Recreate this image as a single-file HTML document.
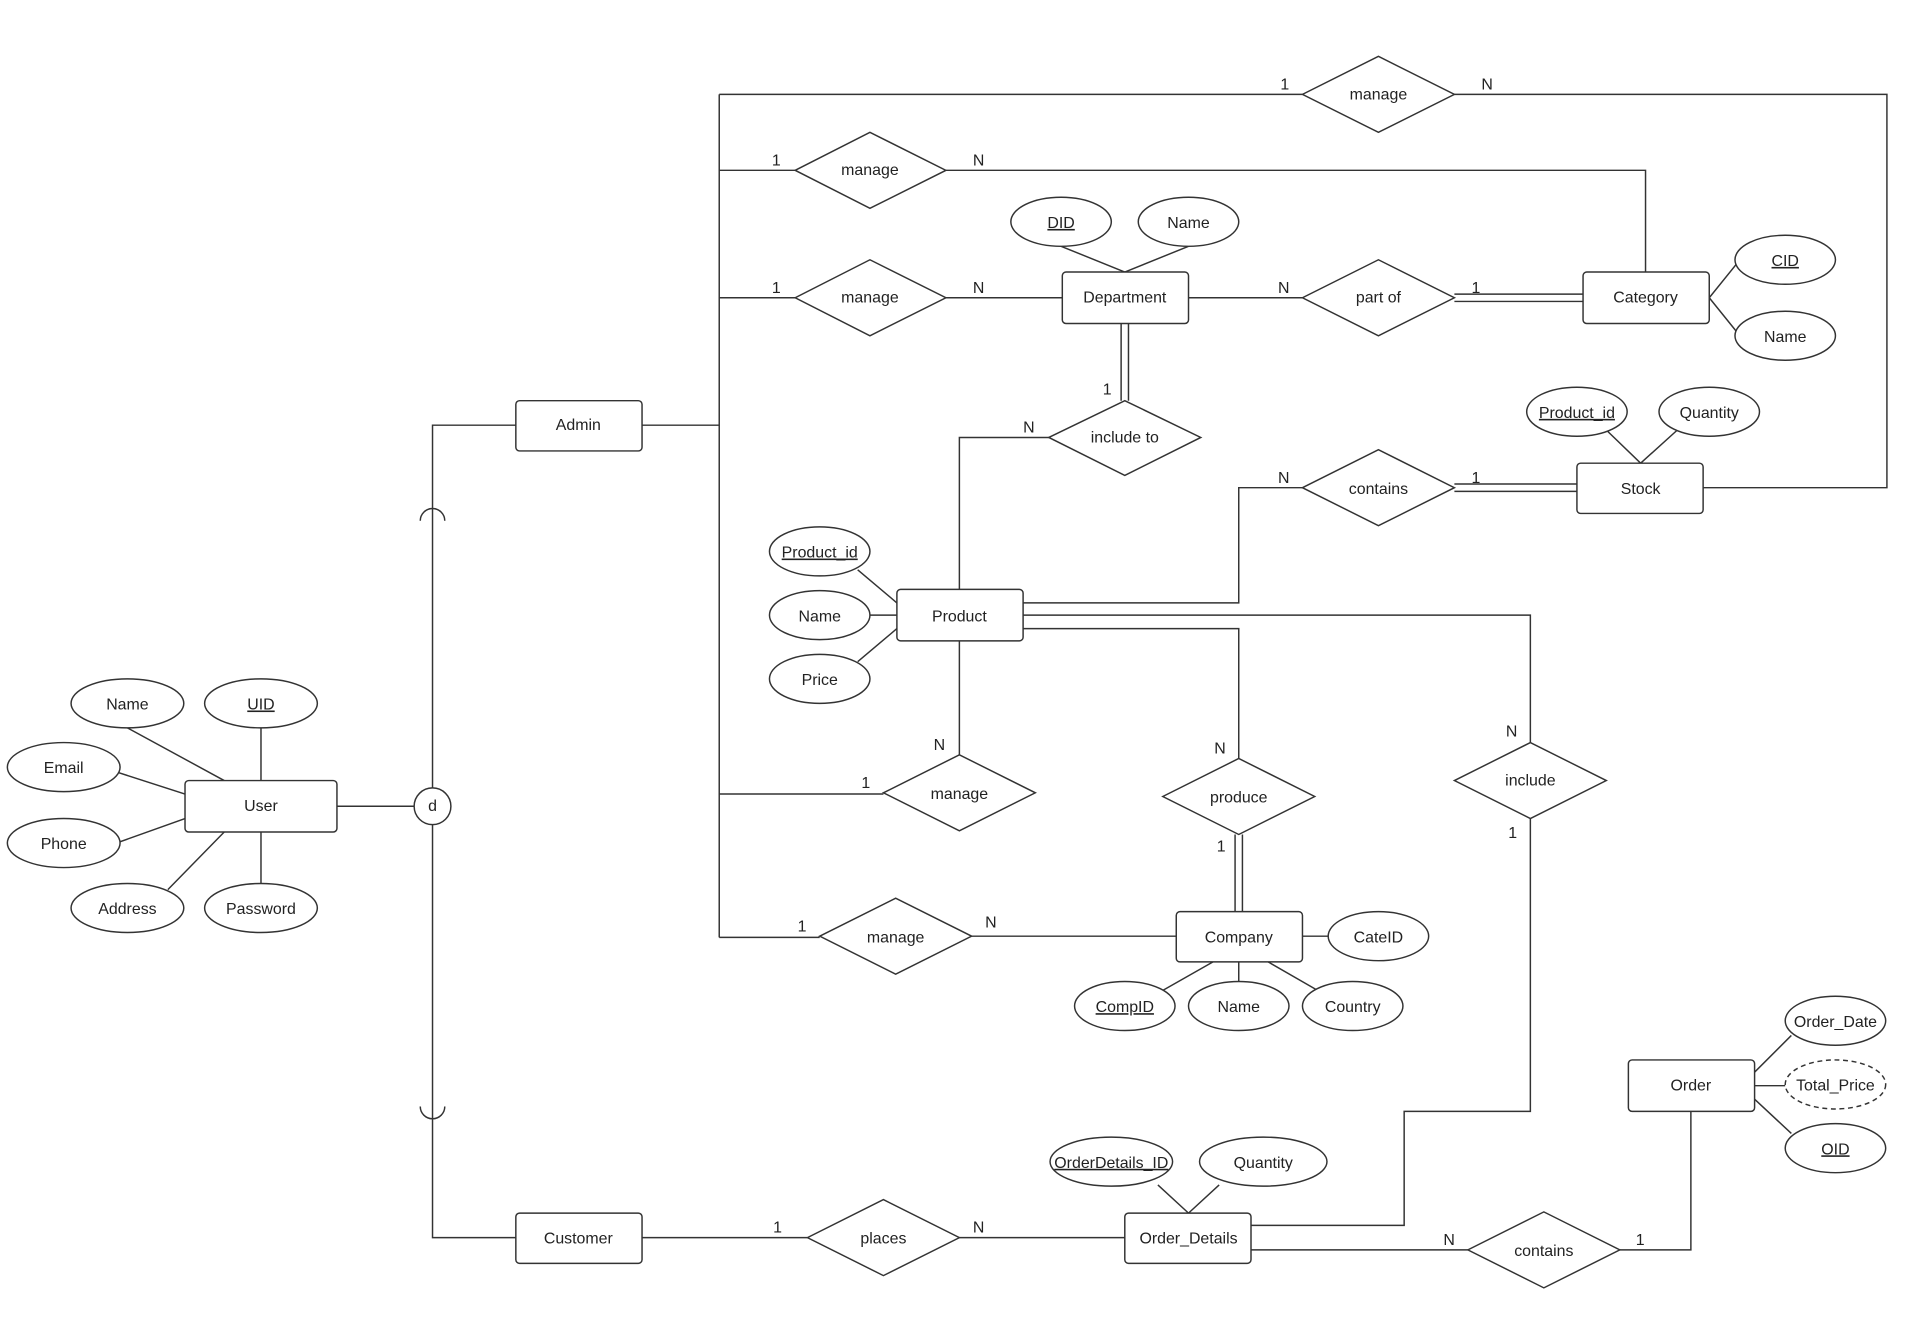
<!DOCTYPE html>
<html><head><meta charset="utf-8"><style>
html,body{margin:0;padding:0;background:#fff}
svg{display:block}
text{font-family:"Liberation Sans",Arial,sans-serif;font-size:13px;fill:#222}
</style></head><body>
<svg width="1920" height="1343" viewBox="0 0 1567 1096" preserveAspectRatio="none" xmlns="http://www.w3.org/2000/svg">
<g stroke="#333" stroke-width="1.2" fill="none">
<path d="M421,347H353V643M353,673V1010H421M275,658H338"/>
<path d="M343,425 a10,10 0 0 1 20,0 M343,903 a10,10 0 0 0 20,0"/>
<path d="M524,347H587M587,77V765M587,77H1063M1187,77H1540V398H1390"/>
<path d="M587,139H649M772,139H1343V222"/>
<path d="M587,243H649M772,243H867M970,243H1063"/>
<path d="M1187,240H1292M1187,246H1292"/>
<path d="M915,264V327M921,264V327"/>
<path d="M856,357H783V481"/>
<path d="M835,492H1011V398H1063"/>
<path d="M1187,395H1287M1187,401H1287"/>
<path d="M835,502H1249V606M1249,668V907H1146V1000H1021"/>
<path d="M835,513H1011V619"/>
<path d="M1008,681V744M1014,681V744"/>
<path d="M783,523V616M587,648H721"/>
<path d="M587,765H669M793,764H960"/>
<path d="M524,1010H659M783,1010H918"/>
<path d="M1021,1020H1198M1322,1020H1380V907"/>
<path d="M918,222L866,201M918,222L970,201"/>
<path d="M1395,243L1420,212M1395,243L1420,274"/>
<path d="M1339,378L1310,350M1339,378L1370,350"/>
<path d="M732,492L700,465M732,502H710M732,513L700,540"/>
<path d="M183,637L104,594M213,637V594M151,648L95,630M151,668L95,688M183,679L137,726M213,679V721"/>
<path d="M1063,764H1085M990,785L946,810M1011,785V801M1035,785L1075,808"/>
<path d="M1432,875L1462,845M1432,886H1457M1432,897L1462,925"/>
<path d="M970,990L945,967M970,990L995,967"/>
</g>
<g stroke="#333" stroke-width="1.2" fill="#fff">
<rect x="421" y="327" width="103" height="41" rx="3"/>
<rect x="421" y="990" width="103" height="41" rx="3"/>
<rect x="151" y="637" width="124" height="42" rx="3"/>
<rect x="867" y="222" width="103" height="42" rx="3"/>
<rect x="1292" y="222" width="103" height="42" rx="3"/>
<rect x="1287" y="378" width="103" height="41" rx="3"/>
<rect x="732" y="481" width="103" height="42" rx="3"/>
<rect x="960" y="744" width="103" height="41" rx="3"/>
<rect x="1329" y="865" width="103" height="42" rx="3"/>
<rect x="918" y="990" width="103" height="41" rx="3"/>
<circle cx="353" cy="658" r="15"/>
<path d="M1063,77L1125,46L1187,77L1125,108Z"/>
<path d="M649,139L710,108L772,139L710,170Z"/>
<path d="M649,243L710,212L772,243L710,274Z"/>
<path d="M1063,243L1125,212L1187,243L1125,274Z"/>
<path d="M856,357L918,327L980,357L918,388Z"/>
<path d="M1063,398L1125,367L1187,398L1125,429Z"/>
<path d="M721,647L783,616L845,647L783,678Z"/>
<path d="M949,650L1011,619L1073,650L1011,681Z"/>
<path d="M1187,637L1249,606L1311,637L1249,668Z"/>
<path d="M669,764L731,733L793,764L731,795Z"/>
<path d="M659,1010L721,979L783,1010L721,1041Z"/>
<path d="M1198,1020L1260,989L1322,1020L1260,1051Z"/>
<ellipse cx="866" cy="181" rx="41" ry="20"/><ellipse cx="970" cy="181" rx="41" ry="20"/>
<ellipse cx="1457" cy="212" rx="41" ry="20"/><ellipse cx="1457" cy="274" rx="41" ry="20"/>
<ellipse cx="1287" cy="336" rx="41" ry="20"/><ellipse cx="1395" cy="336" rx="41" ry="20"/>
<ellipse cx="669" cy="450" rx="41" ry="20"/><ellipse cx="669" cy="502" rx="41" ry="20"/><ellipse cx="669" cy="554" rx="41" ry="20"/>
<ellipse cx="104" cy="574" rx="46" ry="20"/><ellipse cx="213" cy="574" rx="46" ry="20"/>
<ellipse cx="52" cy="626" rx="46" ry="20"/><ellipse cx="52" cy="688" rx="46" ry="20"/>
<ellipse cx="104" cy="741" rx="46" ry="20"/><ellipse cx="213" cy="741" rx="46" ry="20"/>
<ellipse cx="1125" cy="764" rx="41" ry="20"/><ellipse cx="918" cy="821" rx="41" ry="20"/>
<ellipse cx="1011" cy="821" rx="41" ry="20"/><ellipse cx="1104" cy="821" rx="41" ry="20"/>
<ellipse cx="1498" cy="833" rx="41" ry="20"/><ellipse cx="1498" cy="885" rx="41" ry="20" stroke-dasharray="4,3"/><ellipse cx="1498" cy="937" rx="41" ry="20"/>
<ellipse cx="907" cy="948" rx="50" ry="20"/><ellipse cx="1031" cy="948" rx="52" ry="20"/>
</g>
<g text-anchor="middle">
<text x="472" y="351">Admin</text><text x="472" y="1015">Customer</text><text x="213" y="662">User</text>
<text x="918" y="247">Department</text><text x="1343" y="247">Category</text><text x="1339" y="403">Stock</text>
<text x="783" y="507">Product</text><text x="1011" y="769">Company</text><text x="1380" y="890">Order</text>
<text x="970" y="1015">Order_Details</text><text x="353" y="662">d</text>
<text x="1125" y="81">manage</text><text x="710" y="143">manage</text><text x="710" y="247">manage</text>
<text x="1125" y="247">part of</text><text x="918" y="361">include to</text><text x="1125" y="403">contains</text>
<text x="783" y="652">manage</text><text x="1011" y="655">produce</text><text x="1249" y="641">include</text>
<text x="731" y="769">manage</text><text x="721" y="1015">places</text><text x="1260" y="1025">contains</text>
<text x="866" y="186" text-decoration="underline">DID</text><text x="970" y="186">Name</text>
<text x="1457" y="217" text-decoration="underline">CID</text><text x="1457" y="279">Name</text>
<text x="1287" y="341" text-decoration="underline">Product_id</text><text x="1395" y="341">Quantity</text>
<text x="669" y="455" text-decoration="underline">Product_id</text><text x="669" y="507">Name</text><text x="669" y="559">Price</text>
<text x="104" y="579">Name</text><text x="213" y="579" text-decoration="underline">UID</text>
<text x="52" y="631">Email</text><text x="52" y="693">Phone</text><text x="104" y="746">Address</text><text x="213" y="746">Password</text>
<text x="1125" y="769">CateID</text><text x="918" y="826" text-decoration="underline">CompID</text><text x="1011" y="826">Name</text><text x="1104" y="826">Country</text>
<text x="1498" y="838">Order_Date</text><text x="1498" y="890">Total_Price</text><text x="1498" y="942" text-decoration="underline">OID</text>
<text x="907" y="953" text-decoration="underline">OrderDetails_ID</text><text x="1031" y="953">Quantity</text>
</g>
<g font-size="12">
<text x="1045" y="73">1</text><text x="1209" y="73">N</text>
<text x="630" y="135">1</text><text x="794" y="135">N</text>
<text x="630" y="239">1</text><text x="794" y="239">N</text>
<text x="1043" y="239">N</text><text x="1201" y="239">1</text>
<text x="900" y="322">1</text><text x="835" y="353">N</text>
<text x="1043" y="394">N</text><text x="1201" y="394">1</text>
<text x="762" y="612">N</text><text x="703" y="643">1</text>
<text x="991" y="615">N</text><text x="993" y="695">1</text>
<text x="1229" y="601">N</text><text x="1231" y="684">1</text>
<text x="651" y="760">1</text><text x="804" y="757">N</text>
<text x="631" y="1006">1</text><text x="794" y="1006">N</text>
<text x="1178" y="1016">N</text><text x="1335" y="1016">1</text>
</g>
</svg>
</body></html>
